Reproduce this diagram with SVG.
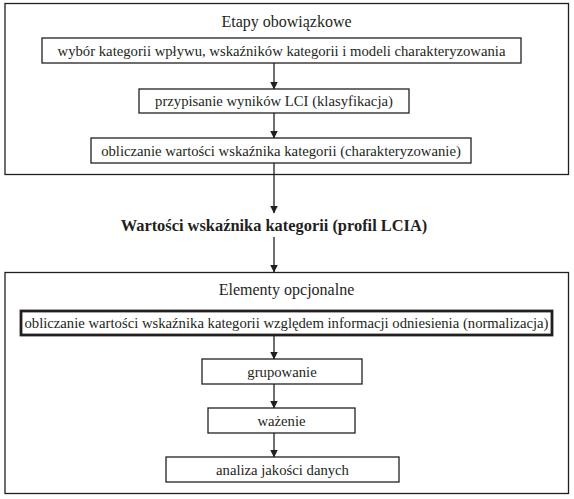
<svg xmlns="http://www.w3.org/2000/svg" width="574" height="499" viewBox="0 0 574 499">
<style>
.frame{fill:none;stroke:#231f20;stroke-width:1.3}
.box{fill:#fff;stroke:#231f20;stroke-width:1.3}
.thick{fill:#fff;stroke:#231f20;stroke-width:2.8}
.t{font-family:"Liberation Serif","Times New Roman",serif;font-size:14.7px;fill:#231f20;text-anchor:middle}
.title{font-family:"Liberation Serif","Times New Roman",serif;font-size:16px;fill:#231f20;text-anchor:middle}
.b{font-family:"Liberation Serif","Times New Roman",serif;font-size:16.4px;font-weight:bold;fill:#231f20;text-anchor:middle}
.c{stroke:#231f20;stroke-width:1.3;fill:none;marker-end:url(#ah)}
</style>
<defs>
<marker id="ah" markerWidth="8" markerHeight="9" refX="7.5" refY="4" orient="auto" markerUnits="userSpaceOnUse" viewBox="0 0 8 8">
<path d="M0,0 L8,4 L0,8 z" fill="#231f20"/>
</marker>
</defs>
<rect width="574" height="499" fill="#fff"/>
<g id="mandatory">
<rect class="frame" x="5" y="3.5" width="563.5" height="171"/>
<text class="title" x="286.5" y="27">Etapy obowiązkowe</text>
</g>
<g id="optional">
<rect class="frame" x="5" y="272.5" width="563.5" height="221"/>
<text class="title" x="286.5" y="295">Elementy opcjonalne</text>
</g>
<g id="connectors">
<line class="c" x1="274" y1="63" x2="274" y2="89"/>
<line class="c" x1="274" y1="113" x2="274" y2="138"/>
<line class="c" x1="274" y1="163" x2="274" y2="213"/>
<line class="c" x1="274" y1="237" x2="274" y2="272"/>
<line class="c" x1="274" y1="335" x2="274" y2="359"/>
<line class="c" x1="274" y1="384" x2="274" y2="408"/>
<line class="c" x1="274" y1="433" x2="274" y2="457"/>
</g>
<g id="n1">
<rect class="box" x="42" y="38" width="479" height="25"/>
<text class="t" x="281.5" y="55.5">wybór kategorii wpływu, wskaźników kategorii i modeli charakteryzowania</text>
</g>
<g id="n2">
<rect class="box" x="139" y="89" width="270" height="24"/>
<text class="t" x="274" y="106">przypisanie wyników LCI (klasyfikacja)</text>
</g>
<g id="n3">
<rect class="box" x="91" y="138" width="380" height="25"/>
<text class="t" x="281" y="155.5">obliczanie wartości wskaźnika kategorii (charakteryzowanie)</text>
</g>
<g id="n4">
<text class="b" x="274" y="231">Wartości wskaźnika kategorii (profil LCIA)</text>
</g>
<g id="n5">
<rect class="thick" x="21" y="311" width="531" height="24"/>
<text class="t" x="286.5" y="328">obliczanie wartości wskaźnika kategorii względem informacji odniesienia (normalizacja)</text>
</g>
<g id="n6">
<rect class="box" x="202" y="359" width="160" height="25"/>
<text class="t" x="282" y="376.5">grupowanie</text>
</g>
<g id="n7">
<rect class="box" x="208" y="408" width="147" height="25"/>
<text class="t" x="281.5" y="425.5">ważenie</text>
</g>
<g id="n8">
<rect class="box" x="166" y="457" width="233" height="25"/>
<text class="t" x="282.5" y="474.5">analiza jakości danych</text>
</g>
</svg>
